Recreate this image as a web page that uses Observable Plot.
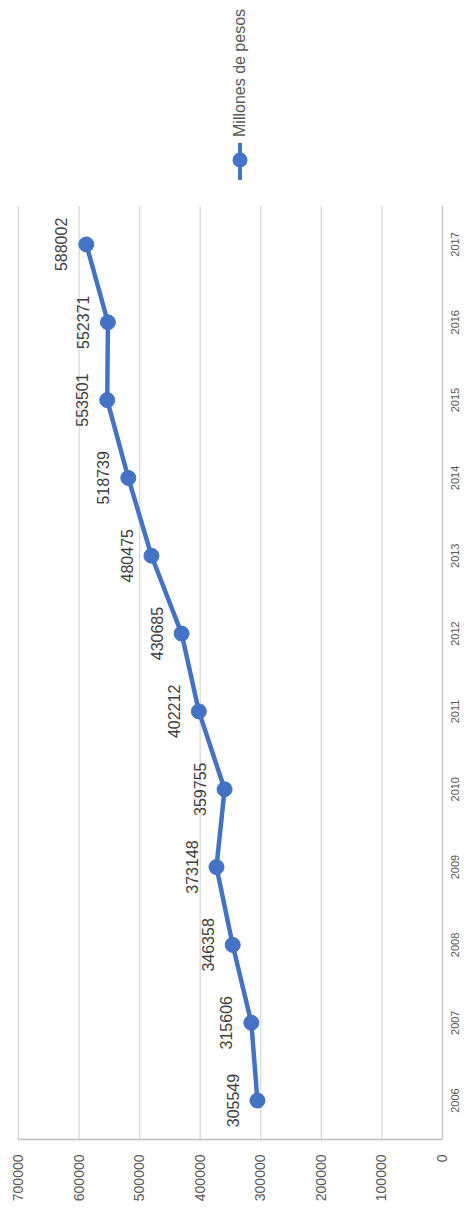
<!DOCTYPE html>
<html><head><meta charset="utf-8">
<script src="https://cdn.jsdelivr.net/npm/d3@7"></script>
<script src="https://cdn.jsdelivr.net/npm/@observablehq/plot@0.6"></script>
<style>
html,body{margin:0;padding:0;background:#fff;overflow:hidden;}
#rot{position:absolute;left:0;top:0;width:1216px;height:471px;transform-origin:0 0;transform:translate(0,1216px) rotate(-90deg);background:#fff;font-family:"Liberation Sans",Arial,sans-serif;}
#chart{position:absolute;left:0;top:0;}
#legend{position:absolute;left:1036px;top:230px;height:20px;display:flex;align-items:center;font-size:16px;color:#595959;white-space:nowrap;}
#legend svg{display:block;margin-right:6px;}
</style></head><body>
<div id="rot"><div id="chart"></div><div id="legend"></div></div>
<script>
const years = [2006, 2007, 2008, 2009, 2010, 2011, 2012, 2013, 2014, 2015, 2016, 2017];
const values = [305549, 315606, 346358, 373148, 359755, 402212, 430685, 480475, 518739, 553501, 552371, 588002];
const yTicks = [0, 100000, 200000, 300000, 400000, 500000, 600000, 700000];
const seriesName = "Millones de pesos";

const data = years.map((year, i) => ({year, value: values[i]}));
const blue = "#4472C4";

const plot = Plot.plot({
  width: 1216,
  height: 471,
  marginLeft: 76,
  marginRight: 206,
  marginTop: 18,
  marginBottom: 29,
  style: {fontFamily: "'Liberation Sans', Arial, sans-serif", background: "#fff", overflow: "visible"},
  x: {domain: [2005.5, 2017.5]},
  y: {domain: [0, 700000]},
  marks: [
    Plot.gridY(yTicks, {stroke: "#d9d9d9", strokeOpacity: 1, strokeWidth: 1.3}),
    Plot.ruleY([0], {stroke: "#cccccc", strokeWidth: 1.3}),
    Plot.ruleX([2005.5], {stroke: "#bfbfbf", strokeWidth: 1.6}),
    Plot.axisY(yTicks, {tickSize: 0, tickPadding: 15, tickFormat: d => String(d), fontSize: 14, fill: "#595959", label: null}),
    Plot.axisX(years, {tickSize: 0, tickPadding: 9, tickFormat: d => String(d), fontSize: 11, fill: "#595959", label: null}),
    Plot.line(data, {x: "year", y: "value", stroke: blue, strokeWidth: 4.5, strokeLinejoin: "round", strokeLinecap: "round"}),
    Plot.dot(data, {x: "year", y: "value", r: 7.5, fill: blue, stroke: blue, strokeWidth: 1}),
    Plot.text(data, {x: "year", y: "value", text: d => String(d.value), dy: -24, fontSize: 16, fill: "#404040"})
  ]
});
document.getElementById("chart").appendChild(plot);

const legend = document.getElementById("legend");
legend.innerHTML = `<svg width="37" height="20"><line x1="0" y1="10" x2="37" y2="10" stroke="${blue}" stroke-width="4"/><circle cx="20" cy="10" r="7.5" fill="${blue}"/></svg><span></span>`;
legend.querySelector("span").textContent = seriesName;
</script>
</body></html>
